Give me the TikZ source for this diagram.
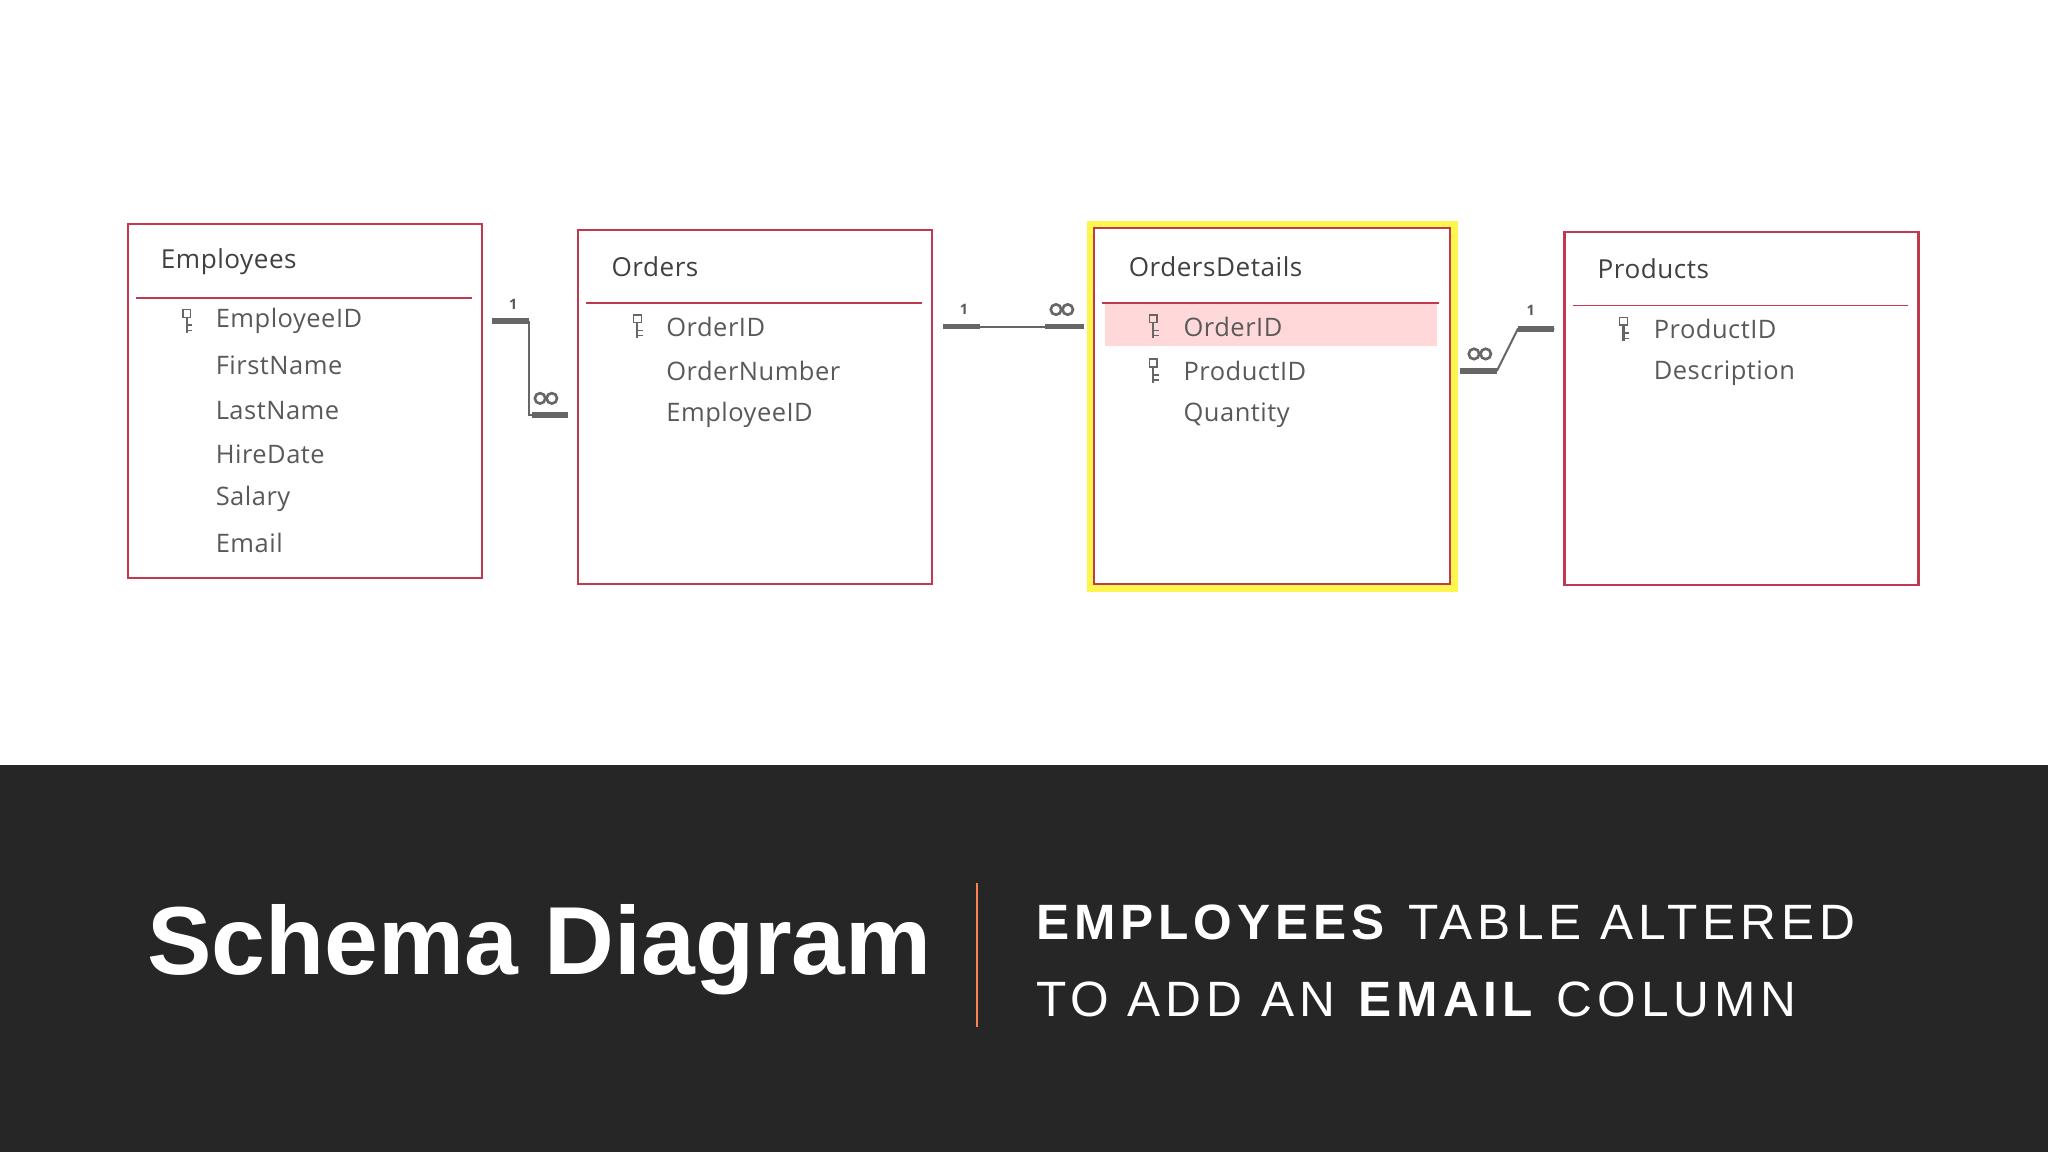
\documentclass[tikz,border=0pt]{standalone}
\usepackage{fontspec}
\setmainfont{Liberation Sans}
\newfontfamily\rowfont[LetterSpace=2]{Open Sans}
\newfontfamily\spacedfont[LetterSpace=10]{Liberation Sans}
\definecolor{tblred}{HTML}{C0394F}
\begin{document}
\begin{tikzpicture}[x=1pt,y=-1pt,
  tbl/.style={draw=tblred,line width=1.6pt,fill=white},
  sep/.style={draw=tblred,line width=1.2pt},
  row/.style={anchor=west,inner sep=0,text=black!65,font=\rowfont\fontsize{19.5}{19.5}\selectfont},
  ttl/.style={anchor=west,inner sep=0,text=black!75,font=\rowfont\fontsize{20}{20}\selectfont},
  rel/.style={draw=black!60,line width=1.5pt},
  relthick/.style={draw=black!60,line width=4.5pt},
  lbl/.style={inner sep=0,text=black!65,font=\rowfont\bfseries\fontsize{11}{11}\selectfont}]
\fill[white] (0,0) rectangle (1568,882);
\useasboundingbox (0,0) rectangle (1568,882);
\newcommand{\keyicon}[2]{%
  \draw[black!60,line width=1.2pt] (#1-3,#2-9) rectangle (#1+3,#2-3);
  \draw[black!60,line width=1.6pt] (#1,#2-3) -- (#1,#2+9);
  \draw[black!60,line width=1.2pt] (#1,#2+3) -- (#1+4,#2+3) (#1,#2+7) -- (#1+4,#2+7);}
\newcommand{\manysym}[2]{%
  \draw[black!60,line width=2pt] (#1-4.5,#2) circle (4pt) (#1+4.5,#2) circle (4pt);}
% Employees
\node[tbl,minimum width=271,minimum height=271,anchor=north west] (emp) at (97,171) {};
\draw[sep] (104,228) -- (361,228);
\node[ttl] (empt) at (123,200) {Employees};
\keyicon{143}{246}
\node[row] (e1) at (165,246) {EmployeeID};
\node[row] (e2) at (165,280) {FirstName};
\node[row] (e3) at (165,314) {LastName};
\node[row] (e4) at (165,348) {HireDate};
\node[row] (e5) at (165,382) {Salary};
\node[row] (e6) at (165,416) {Email};
% Orders
\node[tbl,minimum width=271,minimum height=271,anchor=north west] (ord) at (442,175) {};
\draw[sep] (449,232) -- (706,232);
\node[ttl] (ordt) at (468,204) {Orders};
\keyicon{488}{250}
\node[row] (o1) at (510,250) {OrderID};
\node[row] (o2) at (510,284) {OrderNumber};
\node[row] (o3) at (510,318) {EmployeeID};
% OrdersDetails
\fill[yellow!70] (832,169) rectangle (1116,453);
\node[tbl,minimum width=272,minimum height=272,anchor=north west] (od) at (837,174) {};
\fill[red!15] (846,233) rectangle (1100,265);
\draw[sep] (844,232) -- (1102,232);
\node[ttl] (odt) at (864,204) {OrdersDetails};
\keyicon{883}{250}
\keyicon{883}{284}
\node[row] (d1) at (906,250) {OrderID};
\node[row] (d2) at (906,284) {ProductID};
\node[row] (d3) at (906,318) {Quantity};
% Products
\node[tbl,minimum width=271,minimum height=270,anchor=north west] (prd) at (1197,177) {};
\draw[sep] (1204,234) -- (1461,234);
\node[ttl] (prdt) at (1223,206) {Products};
\keyicon{1243}{252}
\node[row] (p1) at (1266,252) {ProductID};
\node[row] (p2) at (1266,286) {Description};
% relation 1
\coordinate (a1) at (377,246); \coordinate (a2) at (405,246);
\coordinate (a3) at (405,318); \coordinate (a4) at (435,318);
\draw[relthick] (a1) -- (a2);
\draw[rel] (a2) -- (a3) -- (a4);
\draw[relthick] (407,318) -- (a4);
\node[lbl] at (393,233) {1};
\manysym{418}{305}
% relation 2
\coordinate (b1) at (722,250); \coordinate (b2) at (830,250);
\draw[rel] (b1) -- (b2);
\draw[relthick] (b1) -- (750,250);
\draw[relthick] (800,250) -- (b2);
\node[lbl] at (738,237) {1};
\manysym{813}{237}
% relation 3
\coordinate (c1) at (1118,284); \coordinate (c2) at (1146,284);
\coordinate (c3) at (1162,252); \coordinate (c4) at (1190,252);
\draw[relthick] (c1) -- (c2);
\draw[rel] (c2) -- (c3) -- (c4);
\draw[relthick] (c3) -- (c4);
\manysym{1133}{271}
\node[lbl] at (1172,238) {1};
% banner
\fill[black!85] (0,586) rectangle (1568,882);
\node[text=white,font=\bfseries\fontsize{74}{74}\selectfont,inner sep=0] (title) at (413,727) {Schema Diagram};
\draw[draw=orange!60!red!70!white,line width=2pt] (748,676) -- (748,786);
\node[anchor=west,text=white,inner sep=0,font=\spacedfont\fontsize{38}{38}\selectfont] (s1) at (793,706) {\textbf{EMPLOYEES} TABLE ALTERED};
\node[anchor=west,text=white,inner sep=0,font=\spacedfont\fontsize{38}{38}\selectfont] (s2) at (793,765) {TO ADD AN \textbf{EMAIL} COLUMN};
\end{tikzpicture}
\end{document}
